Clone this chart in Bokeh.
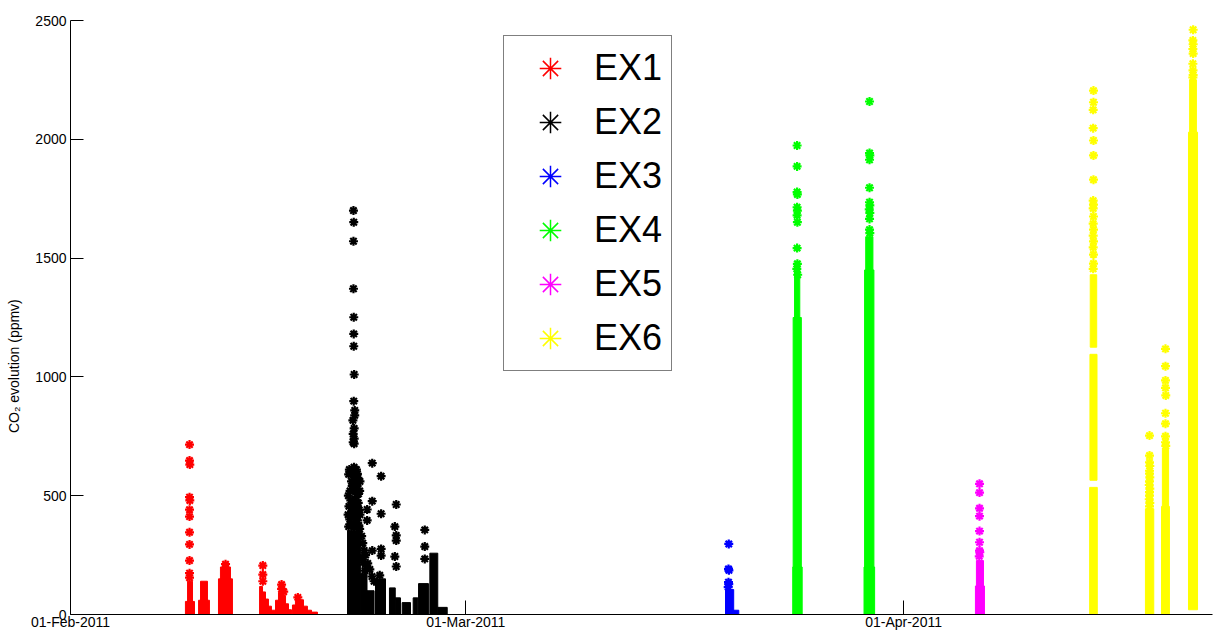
import numpy as np
from bokeh.plotting import figure
from bokeh.models import Range1d, FixedTicker, Legend, LegendItem
from bokeh.embed import file_html
from bokeh.resources import INLINE

# ---------------- data (time = days since 01-Feb-2011 00:00) ----------------
tick_days = [0, 28, 59]
tick_labels = ["01-Feb-2011", "01-Mar-2011", "01-Apr-2011"]
y_ticks = [0, 500, 1000, 1500, 2000, 2500]
x_end_day = 80.88
y_label = "CO\u2082 evolution (ppmv)"

series_names = ["EX1", "EX2", "EX3", "EX4", "EX5", "EX6"]
series_colors = ["#ff0000", "#000000", "#0000ff", "#00ff00", "#ff00ff", "#ffff00"]

# dense (saturated) parts of each record: start day, end day, low, high (ppmv)
ex1_band_t0 = [8.14, 8.29, 9.07, 9.21, 10.48, 10.62, 10.76, 13.39, 13.60, 13.81, 14.02, 14.23,
               14.52, 14.73, 15.01, 15.23, 15.44, 15.72, 15.93, 16.22, 16.50, 16.78, 17.07]
ex1_band_t1 = [8.78, 8.64, 9.84, 9.70, 11.47, 11.33, 11.19, 13.60, 13.81, 14.02, 14.23, 14.52,
               14.73, 15.01, 15.23, 15.44, 15.65, 15.93, 16.22, 16.50, 16.78, 17.07, 17.49]
ex1_band_lo = [0] * 23
ex1_band_hi = [55, 140, 60, 140, 150, 200, 218, 118, 95, 65, 35, 18,
               60, 94, 80, 45, 20, 40, 68, 62, 35, 18, 10]
ex1_pt_t = [8.43, 8.43, 8.45, 8.43, 8.45, 8.43, 8.43, 8.43, 8.43, 8.43, 8.43, 8.43,
            10.98, 13.62, 13.62, 13.62, 14.95, 14.95, 15.10, 16.10]
ex1_pt_v = [715, 648, 631, 494, 480, 441, 412, 346, 295, 227, 174, 155,
            212, 206, 168, 140, 126, 108, 96, 72]

ex2_band_t0 = [19.62, 20.55, 21.00, 21.60, 22.59, 23.00, 23.49, 24.27, 24.65, 25.45, 26.01]
ex2_band_t1 = [20.55, 21.00, 21.50, 22.31, 23.00, 23.37, 24.08, 24.60, 25.35, 26.01, 26.68]
ex2_band_lo = [0] * 11
ex2_band_hi = [354, 172, 100, 150, 112, 70, 50, 70, 130, 258, 30]
ex2_pt_t = [20.04, 20.06, 20.04, 20.04, 20.06, 20.06, 20.06, 20.09, 20.06, 20.13, 20.13, 20.00,
            20.09, 20.02, 20.09, 20.02, 20.09,
            20.08, 20.32, 19.85, 20.20, 20.05, 20.40, 20.08, 20.32, 19.95, 20.32, 20.08,
            19.90, 20.15, 19.95, 20.25, 19.85, 20.15, 19.90,
            19.75, 20.30, 19.80, 20.45, 19.72, 20.38, 19.78, 20.42, 20.20, 19.90, 20.35,
            20.00, 20.10, 20.22,
            19.70, 20.50, 19.68, 20.48, 19.66, 20.50, 19.70, 20.48, 20.25,
            20.62, 20.70, 20.80, 20.68, 20.90, 21.05,
            21.37, 22.00, 21.37, 21.01, 22.00, 21.01, 21.37, 22.00, 22.00,
            23.07, 22.97, 23.07, 23.07, 22.97, 23.07, 25.09, 25.09, 25.09,
            20.75, 20.95, 21.20, 20.85, 21.35, 21.50, 21.90]
ex2_pt_v = [1700, 1651, 1571, 1371, 1251, 1181, 1129, 1010, 898, 859, 838, 817,
            783, 760, 740, 725, 719,
            620, 592, 592, 550, 522, 508, 473, 452, 431, 396, 367,
            600, 575, 540, 495, 480, 410, 380,
            610, 540, 520, 440, 455, 470, 400, 375, 600, 560, 575,
            450, 430, 400,
            590, 560, 500, 520, 420, 420, 370, 360, 610,
            330, 300, 270, 240, 250, 215,
            637, 582, 477, 442, 424, 396, 269, 276, 248,
            463, 370, 333, 311, 244, 202, 356, 286, 234,
            220, 205, 190, 185, 160, 140, 165]

ex3_band_t0 = [46.39, 46.97]
ex3_band_t1 = [46.97, 47.33]
ex3_band_lo = [0, 0]
ex3_band_hi = [105, 18]
ex3_pt_t = [46.62, 46.60, 46.63, 46.60, 46.62, 46.58]
ex3_pt_v = [297, 192, 186, 136, 128, 115]

ex4_band_t0 = [51.15, 51.18, 51.28, 56.20, 56.24, 56.32]
ex4_band_t1 = [51.82, 51.76, 51.65, 56.95, 56.90, 56.83]
ex4_band_lo = [0, 200, 1250, 0, 200, 1450]
ex4_band_hi = [200, 1250, 1470, 200, 1450, 1590]
ex4_pt_t = [51.46, 51.46, 51.46, 51.48, 51.46, 51.48, 51.46, 51.48, 51.46, 51.48, 51.44, 51.50,
            56.59, 56.59, 56.61, 56.59, 56.59, 56.59, 56.61, 56.57, 56.61, 56.59, 56.59, 56.61]
ex4_pt_v = [1974, 1886, 1778, 1768, 1714, 1700, 1680, 1651, 1542, 1476, 1455, 1430,
            2159, 1942, 1932, 1914, 1796, 1735, 1722, 1705, 1690, 1665, 1620, 1605]

ex5_band_t0 = [64.09, 64.16]
ex5_band_t1 = [64.73, 64.66]
ex5_band_lo = [0, 120]
ex5_band_hi = [120, 227]
ex5_pt_t = [64.38, 64.38, 64.38, 64.38, 64.38, 64.38, 64.38, 64.40, 64.36]
ex5_pt_v = [550, 513, 447, 414, 351, 304, 269, 262, 245]

ex6_band_t0 = [72.18, 72.20, 72.22, 76.13, 77.27, 77.33, 79.18, 79.26]
ex6_band_t1 = [72.72, 72.70, 72.68, 76.72, 77.83, 77.77, 79.82, 79.74]
ex6_band_lo = [0, 565, 1125, 0, 0, 455, 20, 2030]
ex6_band_hi = [535, 1095, 1430, 445, 455, 700, 2030, 2250]
ex6_pt_t = [72.45, 72.45, 72.43, 72.43, 72.45, 72.45, 72.45, 72.43, 72.45, 72.43, 72.45, 72.43,
            72.45, 72.43, 72.45, 72.43, 72.45, 72.45, 72.43,
            76.42, 76.42, 76.42, 76.44, 76.42, 76.42, 76.44, 76.42, 76.40, 76.44, 76.42, 76.42,
            76.40, 76.44, 76.42,
            77.55, 77.55, 77.55, 77.55, 77.57, 77.55, 77.55, 77.55, 77.55, 77.57,
            79.51, 79.49, 79.51, 79.49, 79.51, 79.49, 79.50, 79.51, 79.49]
ex6_pt_v = [2205, 2156, 2124, 2047, 1995, 1932, 1830, 1742, 1725, 1709, 1675, 1645,
            1620, 1595, 1570, 1545, 1515, 1477, 1455,
            753, 669, 640, 625, 605, 593, 577, 560, 545, 530, 515, 500,
            485, 470, 455,
            1118, 1045, 985, 954, 922, 847, 803, 750, 725, 710,
            2461, 2416, 2400, 2380, 2361, 2318, 2290, 2270, 2260]

bands = [
    (ex1_band_t0, ex1_band_t1, ex1_band_lo, ex1_band_hi),
    (ex2_band_t0, ex2_band_t1, ex2_band_lo, ex2_band_hi),
    (ex3_band_t0, ex3_band_t1, ex3_band_lo, ex3_band_hi),
    (ex4_band_t0, ex4_band_t1, ex4_band_lo, ex4_band_hi),
    (ex5_band_t0, ex5_band_t1, ex5_band_lo, ex5_band_hi),
    (ex6_band_t0, ex6_band_t1, ex6_band_lo, ex6_band_hi),
]
points = [
    (ex1_pt_t, ex1_pt_v), (ex2_pt_t, ex2_pt_v), (ex3_pt_t, ex3_pt_v),
    (ex4_pt_t, ex4_pt_v), (ex5_pt_t, ex5_pt_v), (ex6_pt_t, ex6_pt_v),
]

# ---------------- figure ----------------
FONT = "Liberation Sans"

p = figure(width=1214, height=633, output_backend="svg", toolbar_location=None,
           x_range=Range1d(0, x_end_day), y_range=Range1d(0, 2500),
           min_border_left=70, min_border_right=2, min_border_top=20, min_border_bottom=19)
p.outline_line_color = None
p.grid.visible = False
p.background_fill_color = "white"
p.border_fill_color = "white"

for (t0, t1, lo, hi), (pt, pv), color in zip(bands, points, series_colors):
    p.quad(left=t0, right=t1, bottom=lo, top=hi, fill_color=color,
           line_color=color, line_width=1)
    p.scatter(x=pt, y=pv, marker="asterisk", size=9, line_color=color, line_width=2.2)

# axes (MATLAB style, ticks pointing inward)
xa = p.xaxis[0]
xa.ticker = FixedTicker(ticks=tick_days)
xa.major_label_overrides = {d: s for d, s in zip(tick_days, tick_labels)}
xa.minor_tick_line_color = None
xa.major_tick_in = 14
xa.major_tick_out = 0
xa.major_label_standoff = -1
xa.major_label_text_font = FONT
xa.major_label_text_font_size = "14px"
xa.major_label_text_color = "black"
xa.axis_line_color = "black"
xa.major_tick_line_color = "black"

ya = p.yaxis[0]
ya.ticker = FixedTicker(ticks=y_ticks)
ya.minor_tick_line_color = None
ya.major_tick_in = 13
ya.major_tick_out = 0
ya.major_label_standoff = 4
ya.major_label_text_font = FONT
ya.major_label_text_font_size = "14px"
ya.major_label_text_color = "black"
ya.axis_line_color = "black"
ya.major_tick_line_color = "black"
# trailing no-break spaces move the rotated label a little below the axis centre
ya.axis_label = y_label + "\u00a0" * 25
ya.axis_label_standoff = 10
ya.axis_label_text_font = FONT
ya.axis_label_text_font_size = "14px"
ya.axis_label_text_font_style = "normal"
ya.axis_label_text_color = "black"

# legend (one off-screen sample per entry so the marker is drawn)
items = []
for name, color in zip(series_names, series_colors):
    r = p.scatter(x=[-100], y=[-1000], marker="asterisk", size=16, line_color=color, line_width=1.5)
    items.append(LegendItem(label=name, renderers=[r]))
legend = Legend(items=items, location=(433, 243), margin=0, padding=5, spacing=0,
                glyph_width=82, glyph_height=54, label_height=54, label_width=72,
                label_standoff=3, label_text_font=FONT, label_text_font_size="36px",
                label_text_baseline="middle", label_text_color="black",
                border_line_color="black", border_line_width=1,
                background_fill_color="white", background_fill_alpha=1)
p.add_layout(legend)

open("out.html", "w").write(file_html(p, INLINE))
